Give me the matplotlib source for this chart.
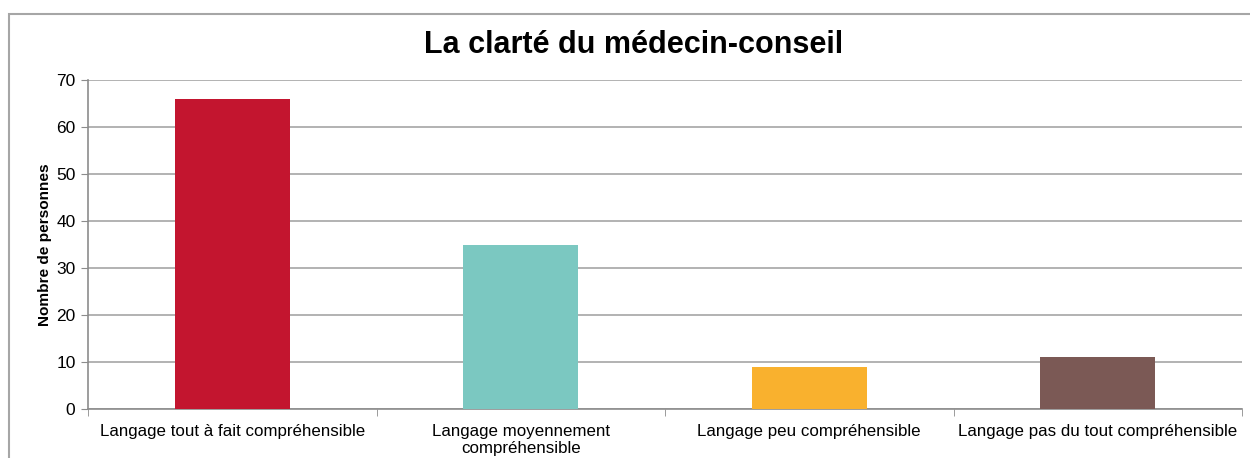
import numpy as np
import matplotlib.pyplot as plt
from matplotlib.patches import Rectangle

plt.rcParams['font.family'] = ['Liberation Sans', 'DejaVu Sans']

# data
categories = ['Langage tout à fait compréhensible',
              'Langage moyennement\ncompréhensible',
              'Langage peu compréhensible',
              'Langage pas du tout compréhensible']
values = [66, 35, 9, 11]
colors = ['#C3152F', '#7BC8C1', '#F9B12E', '#7B5955']

W, H = 1250, 458
fig = plt.figure(figsize=(W / 100, H / 100), dpi=100)
ax = fig.add_axes([88 / W, 1 - 409 / H, (1242 - 88) / W, (409 - 80) / H])

x = np.arange(len(categories))
ax.bar(x, values, width=0.4, color=colors, zorder=3)

ax.set_xlim(-0.5, len(categories) - 0.5)
ax.set_ylim(0, 70)
ax.set_yticks(range(0, 71, 10))
ax.yaxis.grid(True, color='#A6A6A6', linewidth=1.2, zorder=0)
ax.set_xticks(x)
ax.set_xticklabels(categories, fontsize=12.2, linespacing=1.15)
ax.set_xticks(np.arange(-0.5, len(categories)), minor=True)
ax.tick_params(axis='x', which='major', length=0, pad=11)
ax.tick_params(axis='x', which='minor', length=5, color='#8C8C8C')
ax.tick_params(axis='y', length=5, color='#8C8C8C', labelsize=12.5, pad=4)

for s in ['top', 'right']:
    ax.spines[s].set_visible(False)
for s in ['left', 'bottom']:
    ax.spines[s].set_color('#8C8C8C')
    ax.spines[s].set_linewidth(1.2)

ax.set_ylabel('Nombre de personnes', fontsize=11.1, fontweight='bold', labelpad=3)
fig.text(634 / W, 1 - 45 / H, 'La clarté du médecin-conseil', ha='center', va='center',
         fontsize=22, fontweight='bold')

fig.patches.append(Rectangle((9 / W, -0.05), 1.1, 1.05 - 14 / H, transform=fig.transFigure,
                             fill=False, edgecolor='#A6A6A6', linewidth=1.5))

fig.savefig('out.png', dpi=100)
